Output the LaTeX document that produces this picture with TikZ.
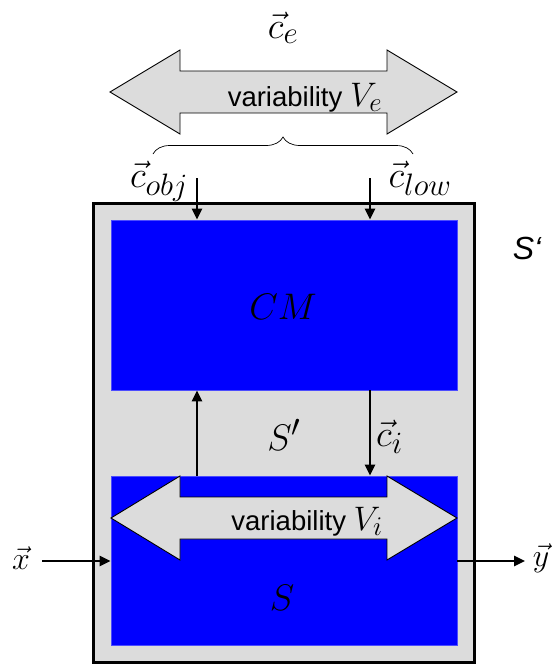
\RequirePackage{fix-cm}
\documentclass[tikz,border=0pt]{standalone}
\usepackage{fontspec}
\newfontfamily\arialf{Liberation Sans}
\usetikzlibrary{arrows.meta,decorations.pathreplacing}
\DeclareMathSizes{37}{37}{31}{24}
\DeclareMathSizes{34}{34}{27}{22}
\DeclareMathSizes{32}{32}{26}{20}
\definecolor{boxgray}{HTML}{DCDCDC}
\definecolor{pureblue}{HTML}{0000FF}
\tikzset{
  mathlbl/.style={inner sep=0pt,font=\fontsize{37}{42}\selectfont},
  iolbl/.style={inner sep=0pt,font=\fontsize{32}{36}\selectfont},
  bluebox/.style={draw=pureblue!70!white,line width=0.6pt,fill=pureblue,minimum width=346pt,inner sep=0pt},
  bigarrow/.style={draw=black,line width=0.9pt,fill=boxgray},
  arr/.style={line width=2.5pt,-{Triangle[length=11pt,width=10pt]}},
}
\newcommand{\varlbl}[1]{\arialf\fontsize{27.5}{30}\selectfont variability \fontsize{34}{40}\selectfont$#1$}
\begin{document}
\begin{tikzpicture}[x=1pt,y=-1pt]
\useasboundingbox (0,0) rectangle (557,664);
% outer system S'
\node[draw=black,line width=3pt,fill=boxgray,minimum width=381pt,minimum height=459pt,inner sep=0pt] (outer) at (283.5,432.5) {};
\node[font=\arialf\itshape\fontsize{32}{34}\selectfont,inner sep=0pt] (Sq) at (527,248) {S‘};
% CM and S
\node[bluebox,minimum height=170pt] (CM) at (284,305) {};
\node[mathlbl] (CMl) at (283,307) {$CM$};
\node[bluebox,minimum height=169pt] (S) at (284,560.5) {};
\node[mathlbl] (Sl) at (282,598) {$S$};
\node[mathlbl] (Spl) at (284,435) {$S'$};
% top variability arrow
\path[bigarrow] (110,92) -- (180,50) -- (180,71) -- (387,71) -- (387,50) -- (457,92) -- (387,134) -- (387,113) -- (180,113) -- (180,134) -- cycle;
\node[anchor=base,inner sep=0pt] (Ve) at (305,106) {\varlbl{V_e}};
\node[mathlbl,anchor=base] (ce) at (283,38) {$\vec{c}_e$};
% brace
\draw[line width=0.7pt,decorate,decoration={brace,amplitude=17pt}] (153,154) -- (413,154);
\node[mathlbl,anchor=base] (cobj) at (159,187) {$\vec{c}_{obj}$};
\node[mathlbl,anchor=base] (clow) at (420,187) {$\vec{c}_{low}$};
\coordinate (in1) at (197,178);
\coordinate (in2) at (370,178);
\draw[arr] (in1) -- (in1 |- CM.north);
\draw[arr] (in2) -- (in2 |- CM.north);
% internal arrows
\coordinate (up) at (197,0);
\coordinate (dn) at (370,0);
\draw[arr] (up |- S.north) -- (up |- CM.south);
\draw[arr] (dn |- CM.south) -- (dn |- S.north);
\node[mathlbl,anchor=west] (ci) at (376,437) {$\vec{c}_i$};
% inner variability arrow
\path[bigarrow] (111,518) -- (180,476) -- (180,497) -- (387,497) -- (387,476) -- (457,518) -- (387,560) -- (387,539) -- (180,539) -- (180,560) -- cycle;
\node[anchor=base,inner sep=0pt] (Vi) at (307,530) {\varlbl{V_i}};
% input / output
\node[iolbl] (x) at (21,558) {$\vec{x}$};
\node[iolbl] (y) at (541,558) {$\vec{y}$};
\draw[arr] (42,561) -- (S.west |- 0,561);
\draw[arr] (S.east |- 0,561) -- (525,561);
\end{tikzpicture}
\end{document}
